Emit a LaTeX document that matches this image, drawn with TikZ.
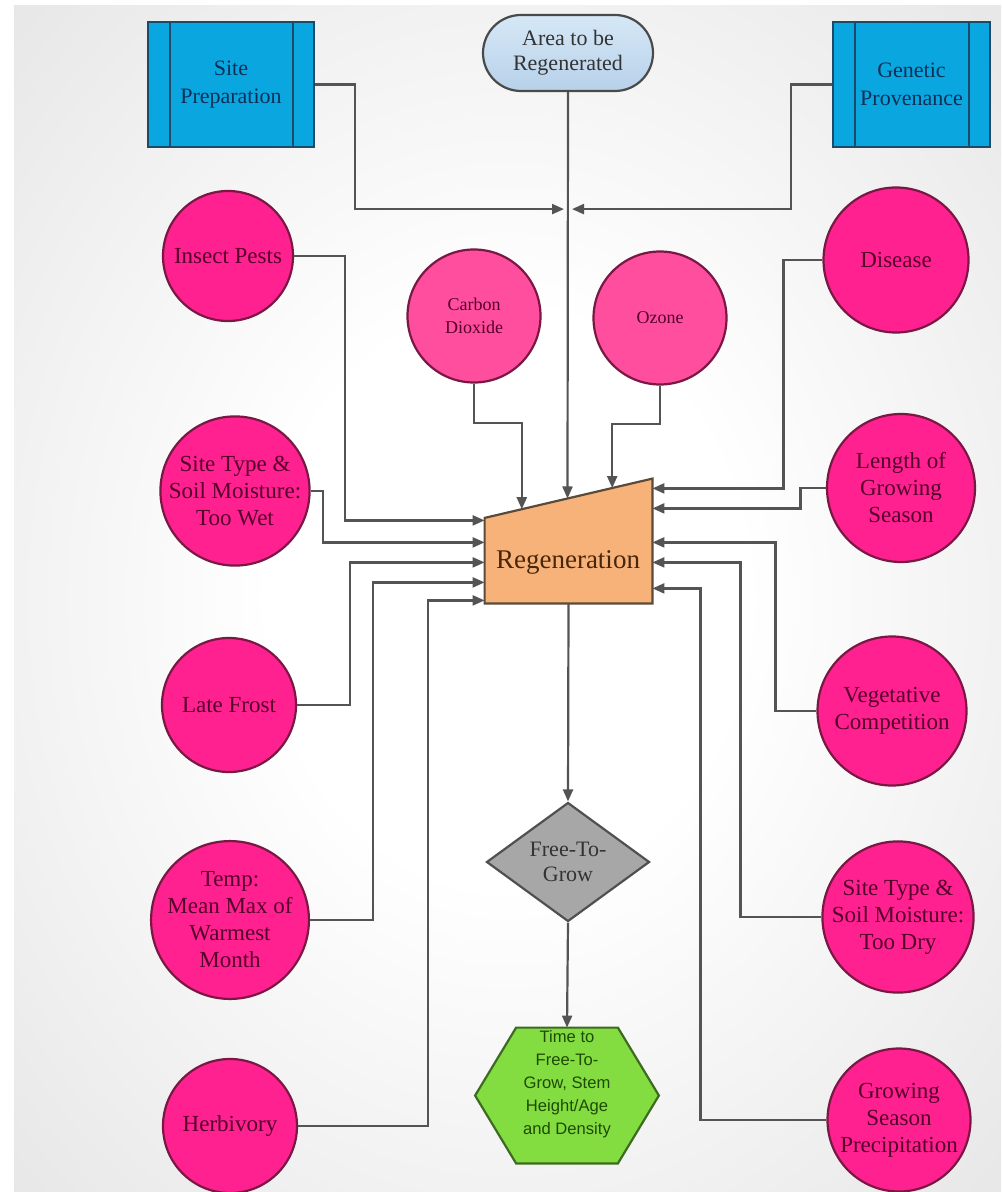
\documentclass[tikz,border=0pt]{standalone}
\usepackage{fontspec}
\setmainfont{Liberation Serif}
\newfontfamily\hexfont{Liberation Sans}
\usetikzlibrary{arrows.meta,shapes.geometric,shapes.misc,calc}

\definecolor{bgedge}{HTML}{C2C2C2}
\definecolor{linegray}{HTML}{545454}
\definecolor{boxblue}{HTML}{0AA6DF}
\definecolor{boxedge}{HTML}{1C4A68}
\definecolor{boxtext}{HTML}{0C2F57}
\definecolor{termtop}{HTML}{D6E8F6}
\definecolor{termbot}{HTML}{B7D1EA}
\definecolor{termedge}{HTML}{4A4A4A}
\definecolor{circfill}{HTML}{FF2190}
\definecolor{circlight}{HTML}{FF4E9E}
\definecolor{circedge}{HTML}{7A1844}
\definecolor{circtext}{HTML}{55002A}
\definecolor{regenfill}{HTML}{F7B27A}
\definecolor{regenedge}{HTML}{5A4A3A}
\definecolor{regentext}{HTML}{4A2608}
\definecolor{decfill}{HTML}{A7A7A7}
\definecolor{decedge}{HTML}{505050}
\definecolor{hexfill}{HTML}{83DD40}
\definecolor{hexedge}{HTML}{3D6B22}
\definecolor{hextext}{HTML}{1E4A05}

% soft white glow in the middle of the sheet
\pgfdeclareradialshading{bgglow}{\pgfpoint{0bp}{0bp}}{color(0bp)=(white); color(12bp)=(white); color(72bp)=(bgedge)}

\begin{document}
\begin{tikzpicture}[x=0.5pt,y=-0.5pt,
  conn/.style={draw=linegray, line width=1.1pt, -{Triangle[length=6pt,width=5pt]}},
  process/.style={rectangle, draw=boxedge, line width=1.1pt, fill=boxblue,
    text=boxtext, align=center, inner sep=0pt, minimum height=62.5pt,
    font=\fontsize{11}{14}\selectfont,
    path picture={
      \draw[boxedge, line width=0.9pt]
        ([xshift=11pt]path picture bounding box.north west) -- ([xshift=11pt]path picture bounding box.south west)
        ([xshift=-10.5pt]path picture bounding box.north east) -- ([xshift=-10.5pt]path picture bounding box.south east);}},
  terminal/.style={rounded rectangle, draw=termedge, line width=1.1pt,
    top color=termtop, bottom color=termbot, text=black!80,
    align=center, inner sep=0pt, minimum width=85pt, minimum height=38pt,
    font=\fontsize{11}{12.5}\selectfont},
  factor/.style={circle, draw=circedge, line width=1.1pt, fill=circfill,
    text=circtext, align=center, inner sep=0pt,
    font=\fontsize{11.5}{13.5}\selectfont},
  smallfactor/.style={factor, fill=circlight, font=\fontsize{9}{11.5}\selectfont},
  hiddenbox/.style={rectangle, draw=none, fill=none, inner sep=0pt},
  regenshape/.style={draw=regenedge, line width=1.1pt, fill=regenfill},
  regenlabel/.style={text=regentext, font=\fontsize{13.5}{16}\selectfont, inner sep=0pt},
  decision/.style={diamond, draw=decedge, line width=1.1pt, fill=decfill,
    text=black!80, align=center, inner sep=0pt, aspect=1.37,
    minimum width=81.5pt, minimum height=59.5pt,
    font=\fontsize{11}{12.5}\selectfont},
  hexshape/.style={draw=hexedge, line width=1.1pt, fill=hexfill, line join=miter},
  hexlabel/.style={text=hextext, align=center, inner sep=0pt,
    font=\hexfont\fontsize{8.3}{11.5}\selectfont}
]
\useasboundingbox (0,0) rectangle (1001,1192);
\shade[shading=bgglow] (14,6) rectangle (1001,1192);

% inputs along the top
\node[process, minimum width=83pt] (siteprep) at (231,84.5) {Site\\Preparation};
\node[process, minimum width=78.5pt] (genetic) at (911.5,84.5) {Genetic\\Provenance};
\node[terminal] (area) at (568,53) {Area to be\\Regenerated};

% factors on the left
\node[factor, minimum size=65pt] (insect) at (228,256) {Insect Pests};
\node[factor, minimum size=71.5pt] (toowet) at (235,491) {Site Type \&\\Soil Moisture:\\Too Wet};
\node[factor, minimum size=67pt] (latefrost) at (229,705) {Late Frost};
\node[factor, minimum size=67pt] (temp) at (230,920) {Temp:\\Mean Max of\\Warmest\\Month};
\node[factor, minimum size=67pt] (herbivory) at (230,1126) {Herbivory};

% factors on the right
\node[factor, minimum size=72.5pt] (disease) at (896,260) {Disease};
\node[factor, minimum size=74pt] (length) at (901,488) {Length of\\Growing\\Season};
\node[factor, minimum size=74.5pt] (vegcomp) at (892,711) {Vegetative\\Competition};
\node[factor, minimum size=70pt] (toodry) at (898,917) {Site Type \&\\Soil Moisture:\\Too Dry};
\node[factor, minimum size=71.5pt] (precip) at (899,1120) {Growing\\Season\\Precipitation};

% atmospheric factors
\node[smallfactor, minimum size=66.5pt] (carbon) at (474,316) {Carbon\\Dioxide};
\node[smallfactor, minimum size=66.5pt] (ozone) at (660,318) {Ozone};

% the regeneration process block (slanted top)
\node[hiddenbox, minimum width=83.5pt, minimum height=62pt] (regen) at (568.5,541) {};
\coordinate (rtl) at ($(regen.south west)!0.685!(regen.north west)$);
\draw[regenshape] (regen.south west) -- (regen.south east) -- (regen.north east) -- (rtl) -- cycle;
\node[regenlabel] (regentext) at (568,562) {Regeneration};

% decision and outcome
\node[decision] (ftg) at (568,862) {Free-To-\\Grow};
\node[hiddenbox, minimum width=91.5pt, minimum height=67.5pt] (outcome) at (567,1095.5) {};
\draw[hexshape] (outcome.west) -- ($(outcome.north west)+(41,0)$) -- ($(outcome.north east)+(-41,0)$)
  -- (outcome.east) -- ($(outcome.south east)+(-41,0)$) -- ($(outcome.south west)+(41,0)$) -- cycle;
\node[hexlabel] (outcometext) at (567,1084) {Time to\\Free-To-\\Grow, Stem\\Height/Age\\and Density};

% input ports on the regeneration block
\coordinate (l1) at ($(regen.south west)+(0,-83)$);
\coordinate (l2) at ($(regen.south west)+(0,-61)$);
\coordinate (l3) at ($(regen.south west)+(0,-41)$);
\coordinate (l4) at ($(regen.south west)+(0,-21)$);
\coordinate (l5) at ($(regen.south west)+(0,-3)$);
\coordinate (r1) at ($(regen.south east)+(0,-115)$);
\coordinate (r2) at ($(regen.south east)+(0,-95)$);
\coordinate (r3) at ($(regen.south east)+(0,-61)$);
\coordinate (r4) at ($(regen.south east)+(0,-41)$);
\coordinate (r5) at ($(regen.south east)+(0,-15)$);
\coordinate (t1) at ($(rtl)!0.2216!(regen.north east)$);
\coordinate (t2) at ($(rtl)!0.4940!(regen.north east)$);
\coordinate (t3) at ($(rtl)!0.7605!(regen.north east)$);

% meeting point of the two top inputs
\coordinate (jl) at ($(area.south)+(-4,117)$);
\coordinate (jr) at ($(area.south)+(4,117)$);

% connectors
\draw[conn] (area.south) -- (t2);
\draw[conn] (siteprep.east) -| ($(jl)+(-209,0)$) -- (jl);
\draw[conn] (genetic.west) -| ($(jr)+(219,0)$) -- (jr);

\draw[conn] (carbon.south) |- ($(t1)+(0,-86)$) -- (t1);
\draw[conn] (ozone.south) |- ($(t3)+(0,-64)$) -- (t3);

\draw[conn] (insect.east) -| ($(l1)+(-140,0)$) -- (l1);
\draw[conn] (toowet.east) -| ($(l2)+(-162,0)$) -- (l2);
\draw[conn] (latefrost.east) -| ($(l3)+(-135,0)$) -- (l3);
\draw[conn] (temp.east) -| ($(l4)+(-112,0)$) -- (l4);
\draw[conn] (herbivory.east) -| ($(l5)+(-57,0)$) -- (l5);

\draw[conn] (disease.west) -| ($(r1)+(131,0)$) -- (r1);
\draw[conn] (length.west) -| ($(r2)+(148,0)$) -- (r2);
\draw[conn] (vegcomp.west) -| ($(r3)+(123,0)$) -- (r3);
\draw[conn] (toodry.west) -| ($(r4)+(88,0)$) -- (r4);
\draw[conn] (precip.west) -| ($(r5)+(48,0)$) -- (r5);

\draw[conn] (regen.south) -- (ftg.north);
\draw[conn] (ftg.south) -- (outcome.north);
\end{tikzpicture}
\end{document}
